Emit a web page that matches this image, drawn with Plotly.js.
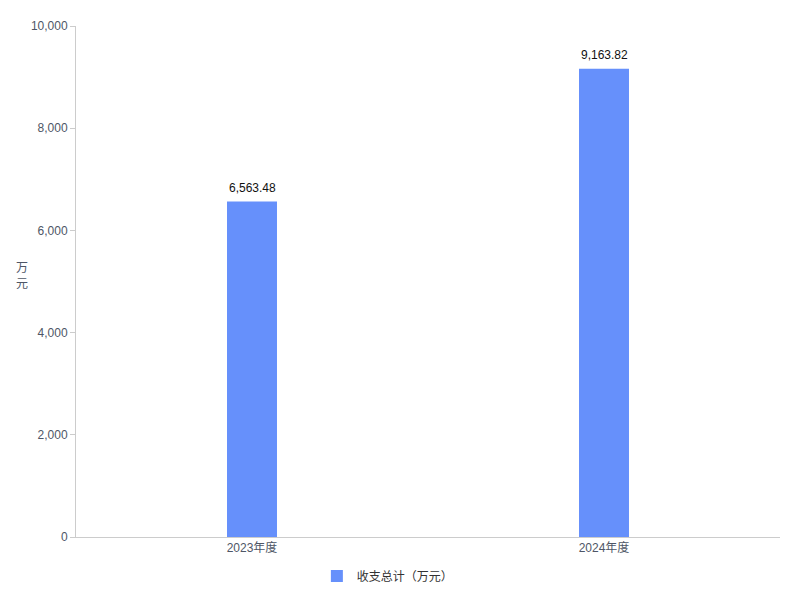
<!DOCTYPE html>
<html>
<head>
<meta charset="utf-8">
<script src="https://cdn.plot.ly/plotly-3.0.1.min.js"></script>
<style>html,body{margin:0;padding:0;background:#fff;}#chart{width:800px;height:600px;}</style>
</head>
<body>
<div id="chart"></div>
<script>
const categories = ["2023年度", "2024年度"];
const values = [6563.48, 9163.82];
const seriesName = "收支总计（万元）";
const yTicks = [0, 2000, 4000, 6000, 8000, 10000];

const fmt = v => v.toLocaleString('en-US', {minimumFractionDigits: 2, maximumFractionDigits: 2});

const trace = {
  type: 'bar',
  x: categories,
  y: values,
  name: seriesName,
  width: 0.142,
  marker: {color: '#6690fb'},
  hoverinfo: 'x+y'
};

const labelAnns = categories.map((c, i) => ({
  x: c, y: values[i], xref: 'x', yref: 'y', text: fmt(values[i]),
  showarrow: false, yanchor: 'bottom', xanchor: 'center', yshift: 5,
  font: {family: 'Liberation Sans, Arial, sans-serif', size: 12, color: '#111'}
}));

const layout = {
  width: 800, height: 600,
  margin: {l: 76, r: 20, t: 26, b: 63},
  paper_bgcolor: '#fff', plot_bgcolor: '#fff',
  font: {family: 'Liberation Sans, Arial, "Noto Sans CJK SC", sans-serif', size: 12, color: '#4e5666'},
  showlegend: true,
  legend: {orientation: 'h', x: 0.443, xanchor: 'center', xref: 'paper', y: 0.04, yanchor: 'middle', yref: 'container',
           font: {size: 12, color: '#333', family: '"Noto Sans CJK SC", sans-serif'}},
  xaxis: {
    type: 'category', showgrid: false, showline: true, linecolor: '#cccccc', linewidth: 1,
    ticks: '', tickfont: {size: 12, color: '#4e5666', family: 'Liberation Sans, "Noto Sans CJK SC", sans-serif'}, zeroline: false
  },
  yaxis: {
    range: [0, 10000], tickvals: yTicks, ticktext: yTicks.map(v => v.toLocaleString('en-US')),
    showgrid: false, showline: true, linecolor: '#cccccc', linewidth: 1,
    ticks: 'outside', ticklen: 5, tickcolor: '#cccccc', zeroline: false,
    tickfont: {size: 12, color: '#4e5666'}
  },
  annotations: [{
    text: '万<br>元', xref: 'paper', yref: 'paper', x: -0.077, y: 0.513,
    xanchor: 'center', yanchor: 'middle', showarrow: false,
    font: {size: 12, color: '#4e5666', family: '"Noto Sans CJK SC", sans-serif'}
  }].concat(labelAnns),
  bargap: 0.2
};

Plotly.newPlot('chart', [trace], layout, {displayModeBar: false, staticPlot: true});
</script>
</body>
</html>
